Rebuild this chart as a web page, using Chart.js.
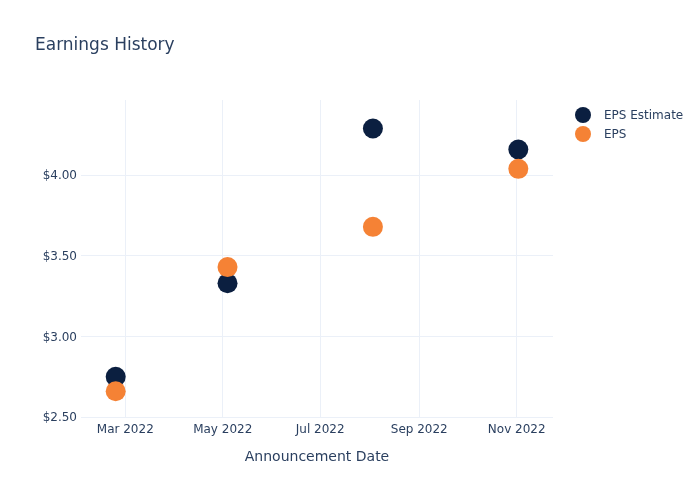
<!DOCTYPE html>
<html>
<head>
<meta charset="utf-8">
<script src="https://cdn.jsdelivr.net/npm/chart.js@4"></script>
<style>
    body { margin: 0; background: #fff; font-family: "DejaVu Sans", Verdana, sans-serif; }
    #wrap { position: relative; width: 700px; height: 500px; }
    #title { position: absolute; left: 35px; top: 34px; font-size: 17px; color: #2a3f5f; }
    #legend { position: absolute; left: 575px; top: 105px; font-size: 12px; color: #2a3f5f; }
    .item { height: 19px; display: flex; align-items: center; }
    .dot { width: 16px; height: 16px; border-radius: 50%; margin-right: 13px; }
</style>
</head>
<body>
<div id="wrap">
    <canvas id="chart" width="700" height="500"></canvas>
    <div id="title">Earnings History</div>
    <div id="legend"></div>
</div>
<script>
// data
const dates = ['2022-02-23', '2022-05-04', '2022-08-03', '2022-11-02'];
const epsEstimate = [2.75, 3.33, 4.29, 4.16];
const eps = [2.66, 3.43, 3.68, 4.04];

const xTickDates = ['2022-03-01', '2022-05-01', '2022-07-01', '2022-09-01', '2022-11-01'];
const xTickLabels = ['Mar 2022', 'May 2022', 'Jul 2022', 'Sep 2022', 'Nov 2022'];
const yTicks = [2.5, 3, 3.5, 4];

const navy = '#0b1f40';
const orange = '#f58235';
const textColor = '#2a3f5f';
const gridColor = '#ebf0f8';

function ts(d) { return new Date(d + 'T00:00:00Z').getTime(); }

const datasets = [
    { label: 'EPS Estimate', color: navy, values: epsEstimate, order: 1 },
    { label: 'EPS', color: orange, values: eps, order: 0 }
];

const chart = new Chart(document.getElementById('chart'), {
    type: 'scatter',
    data: {
        datasets: datasets.map(s => ({
            label: s.label,
            data: dates.map((d, i) => ({ x: ts(d), y: s.values[i] })),
            backgroundColor: s.color,
            borderWidth: 0,
            pointRadius: 10,
            pointHoverRadius: 10,
            order: s.order
        }))
    },
    options: {
        responsive: false,
        animation: false,
        layout: { padding: { top: 100, right: 147, left: 0, bottom: 0 } },
        plugins: { legend: { display: false }, tooltip: { enabled: false } },
        scales: {
            x: {
                type: 'linear',
                min: Date.UTC(2022, 1, 1, 7),
                max: Date.UTC(2022, 10, 23, 17),
                afterBuildTicks: axis => { axis.ticks = xTickDates.map(d => ({ value: ts(d) })); },
                afterFit: axis => { axis.height = 83; },
                ticks: {
                    padding: 6,
                    color: textColor,
                    font: { family: 'DejaVu Sans', size: 12 },
                    maxRotation: 0,
                    autoSkip: false,
                    callback: (v) => xTickLabels[xTickDates.map(ts).indexOf(v)]
                },
                grid: { color: gridColor, drawTicks: false },
                border: { display: false },
                title: {
                    display: true,
                    text: 'Announcement Date',
                    color: textColor,
                    font: { family: 'DejaVu Sans', size: 14 },
                    padding: { top: 0, bottom: 34 }
                }
            },
            y: {
                min: 2.5,
                max: 4.467,
                afterBuildTicks: axis => { axis.ticks = yTicks.map(v => ({ value: v })); },
                afterFit: axis => { axis.width = 81; },
                ticks: {
                    padding: 4,
                    labelOffset: 1,
                    color: textColor,
                    font: { family: 'DejaVu Sans', size: 12 },
                    callback: v => '$' + v.toFixed(2)
                },
                grid: { color: gridColor, drawTicks: false },
                border: { display: false }
            }
        }
    }
});

const legend = document.getElementById('legend');
datasets.forEach(s => {
    const item = document.createElement('div');
    item.className = 'item';
    item.innerHTML = `<span class="dot" style="background:${s.color}"></span><span>${s.label}</span>`;
    legend.appendChild(item);
});
</script>
</body>
</html>
